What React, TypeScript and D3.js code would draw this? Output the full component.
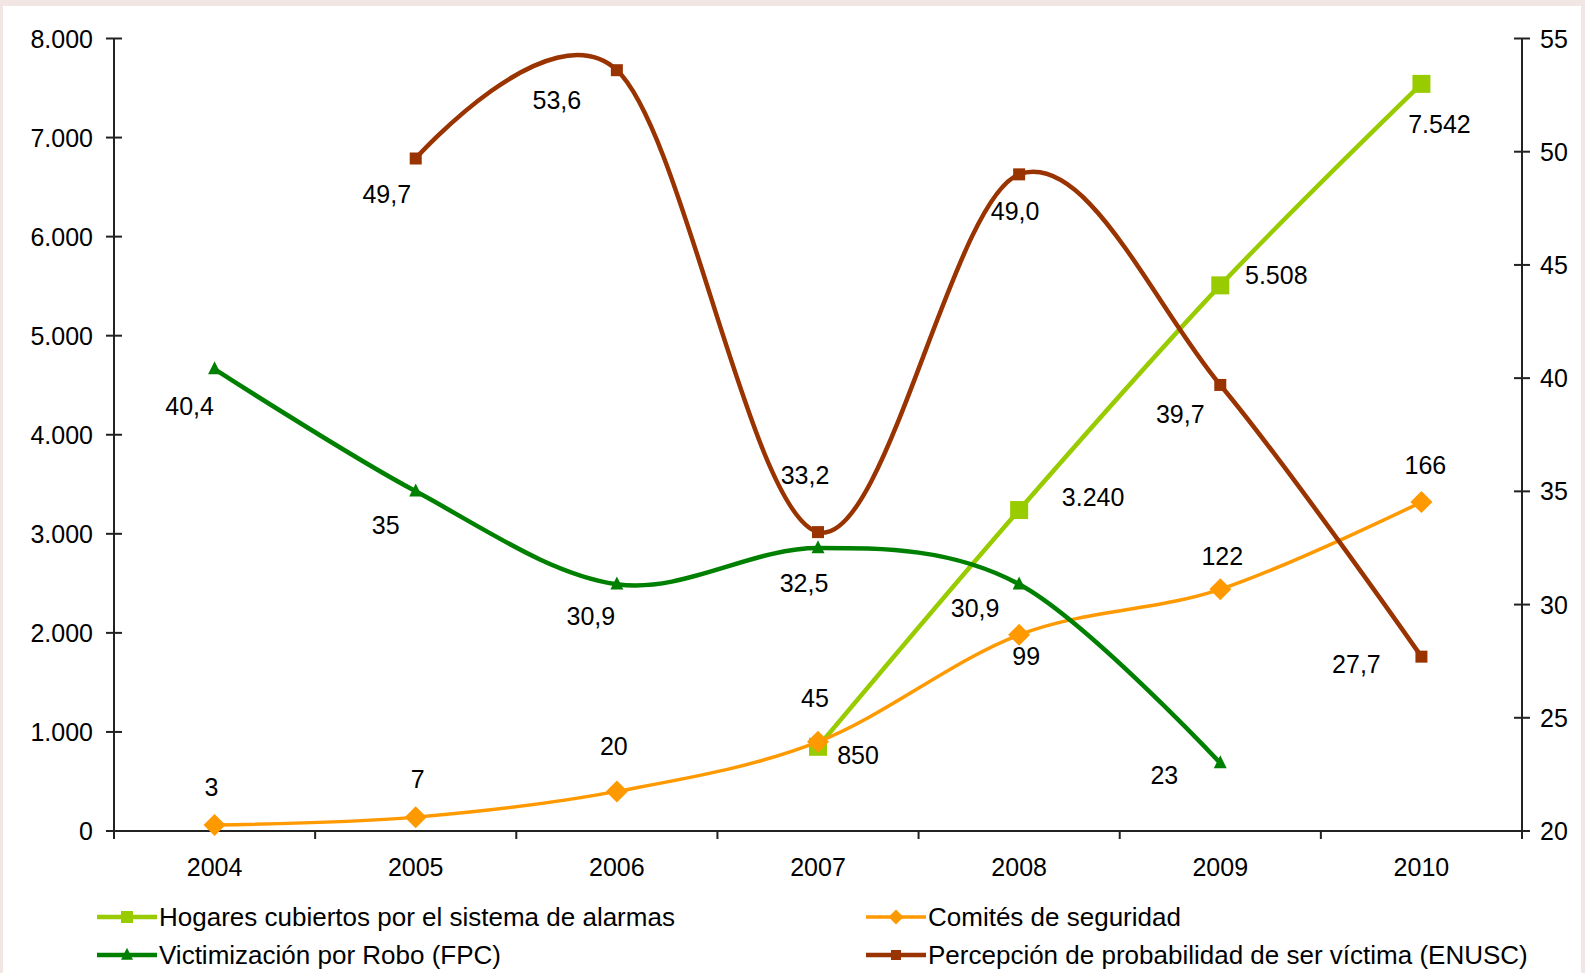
import React from "react";
import * as d3 from "d3";

const years = ["2004", "2005", "2006", "2007", "2008", "2009", "2010"];

// Hogares cubiertos por el sistema de alarmas (left axis), from 2007
const hogaresYears = ["2007", "2008", "2009", "2010"];
const hogaresValues = [850, 3240, 5508, 7542];
const hogaresLabels = ["850", "3.240", "5.508", "7.542"];

// Comités de seguridad (plotted on left axis, labelled with counts)
const comitesYears = ["2004", "2005", "2006", "2007", "2008", "2009", "2010"];
const comitesPlotted = [60, 140, 400, 900, 1980, 2440, 3320];
const comitesLabels = ["3", "7", "20", "45", "99", "122", "166"];

// Victimización por Robo (FPC) (right axis)
const victimYears = ["2004", "2005", "2006", "2007", "2008", "2009"];
const victimValues = [40.4, 35, 30.9, 32.5, 30.9, 23];
const victimLabels = ["40,4", "35", "30,9", "32,5", "30,9", "23"];

// Percepción de probabilidad de ser víctima (ENUSC) (right axis)
const percepYears = ["2005", "2006", "2007", "2008", "2009", "2010"];
const percepValues = [49.7, 53.6, 33.2, 49.0, 39.7, 27.7];
const percepLabels = ["49,7", "53,6", "33,2", "49,0", "39,7", "27,7"];

const leftTicks = [0, 1000, 2000, 3000, 4000, 5000, 6000, 7000, 8000];
const leftTickLabels = ["0", "1.000", "2.000", "3.000", "4.000", "5.000", "6.000", "7.000", "8.000"];
const rightTicks = [20, 25, 30, 35, 40, 45, 50, 55];

const legendNames = [
  "Hogares cubiertos por el sistema de alarmas",
  "Comités de seguridad",
  "Victimización por Robo (FPC)",
  "Percepción de probabilidad de ser víctima (ENUSC)",
];

// label offsets relative to point (px)
const hogaresOff = [[40, 8], [74, -13], [56, -10], [18, 40]];
const comitesOff = [[-3, -38], [2, -38], [-3, -45], [-3, -44], [7, 21], [2, -33], [4, -37]];
const victimOff = [[-25, 37], [-30, 34], [-26, 32], [-14, 35], [-44, 24], [-56, 12]];
const percepOff = [[-29, 35], [-60, 30], [-13, -57], [-4, 37], [-40, 29], [-65, 7]];

const C_HOG = "#99cc00";
const C_COM = "#ff9900";
const C_VIC = "#008000";
const C_PER = "#993300";

const FONT = "'Liberation Sans', Arial, sans-serif";
const FS = 25;

export default function App() {
  const W = 1585, H = 973;
  const left = 114, right = 1522, top = 38.5, bottom = 831;

  const x = d3.scaleBand().domain(years).range([left, right]).padding(0);
  const cx = (y: string) => (x(y) as number) + x.bandwidth() / 2;
  const yL = d3.scaleLinear().domain([0, 8000]).range([bottom, top]);
  const yR = d3.scaleLinear().domain([20, 55]).range([bottom, top]);

  const curve = d3.curveCardinal.tension(0);
  const mkLine = (ys: string[], vs: number[], sc: d3.ScaleLinear<number, number>) =>
    d3.line<number>().x((_, i) => cx(ys[i])).y((v) => sc(v)).curve(curve)(vs) as string;

  const sq = (px: number, py: number, s: number, c: string, k: string) => (
    <rect key={k} x={px - s / 2} y={py - s / 2} width={s} height={s} fill={c} />
  );
  const diamond = (px: number, py: number, s: number, c: string, k: string) => (
    <path key={k} d={`M${px},${py - s / 2}L${px + s / 2},${py}L${px},${py + s / 2}L${px - s / 2},${py}Z`} fill={c} />
  );
  const tri = (px: number, py: number, s: number, c: string, k: string) => (
    <path key={k} d={`M${px},${py - s * 0.6}L${px + s / 2},${py + s * 0.4}L${px - s / 2},${py + s * 0.4}Z`} fill={c} />
  );

  const labelEls = (ys: string[], vs: number[], sc: any, labels: string[], off: number[][], k: string) =>
    labels.map((l, i) => (
      <text
        key={k + i}
        x={cx(ys[i]) + off[i][0]}
        y={sc(vs[i]) + off[i][1]}
        dy="0.36em"
        textAnchor="middle"
        fontSize={FS}
        fontFamily={FONT}
        fill="#000"
      >
        {l}
      </text>
    ));

  const legendItems = [
    { x0: 97, y: 917, c: C_HOG, m: "sq", name: legendNames[0], w: 4.5, ms: 12 },
    { x0: 866, y: 917, c: C_COM, m: "dia", name: legendNames[1], w: 3.5, ms: 15 },
    { x0: 97, y: 955, c: C_VIC, m: "tri", name: legendNames[2], w: 4.5, ms: 12 },
    { x0: 866, y: 955, c: C_PER, m: "sq", name: legendNames[3], w: 4.5, ms: 10 },
  ];

  return (
    <svg width={W} height={H} style={{ position: "absolute", left: 0, top: 0 }} fontFamily={FONT}>
      <rect x={0} y={0} width={W} height={H} fill="#f1e6e4" />
      <rect x={3} y={6} width={1578} height={H - 6} fill="#ffffff" />

      {/* left axis */}
      <line x1={left} x2={left} y1={top} y2={bottom} stroke="#222" strokeWidth={2} />
      {leftTicks.map((t, i) => (
        <g key={"lt" + i}>
          <line x1={left - 8} x2={left + 8} y1={yL(t)} y2={yL(t)} stroke="#222" strokeWidth={2} />
          <text x={93} y={yL(t)} dy="0.36em" textAnchor="end" fontSize={FS} fill="#000">
            {leftTickLabels[i]}
          </text>
        </g>
      ))}
      {/* right axis */}
      <line x1={right} x2={right} y1={top} y2={bottom} stroke="#222" strokeWidth={2} />
      {rightTicks.map((t, i) => (
        <g key={"rt" + i}>
          <line x1={right - 8} x2={right + 8} y1={yR(t)} y2={yR(t)} stroke="#222" strokeWidth={2} />
          <text x={1540} y={yR(t)} dy="0.36em" textAnchor="start" fontSize={FS} fill="#000">
            {t}
          </text>
        </g>
      ))}
      {/* x axis */}
      <line x1={left} x2={right} y1={bottom} y2={bottom} stroke="#222" strokeWidth={2} />
      {years.map((y, i) => (
        <line key={"xt" + i} x1={x(y) as number} x2={x(y) as number} y1={bottom} y2={bottom + 8} stroke="#222" strokeWidth={2} />
      ))}
      <line x1={right} x2={right} y1={bottom} y2={bottom + 8} stroke="#222" strokeWidth={2} />
      {years.map((y, i) => (
        <text key={"xl" + i} x={cx(y)} y={867} dy="0.36em" textAnchor="middle" fontSize={FS} fill="#000">
          {y}
        </text>
      ))}

      {/* Hogares */}
      <path d={mkLine(hogaresYears, hogaresValues, yL)} fill="none" stroke={C_HOG} strokeWidth={4.5} />
      {hogaresValues.map((v, i) => sq(cx(hogaresYears[i]), yL(v), 18, C_HOG, "hm" + i))}

      {/* Comités */}
      <path d={mkLine(comitesYears, comitesPlotted, yL)} fill="none" stroke={C_COM} strokeWidth={3.5} />
      {comitesPlotted.map((v, i) => diamond(cx(comitesYears[i]), yL(v), 22, C_COM, "cm" + i))}

      {/* Victimización */}
      <path d={mkLine(victimYears, victimValues, yR)} fill="none" stroke={C_VIC} strokeWidth={4.5} />
      {victimValues.map((v, i) => tri(cx(victimYears[i]), yR(v), 13, C_VIC, "vm" + i))}

      {/* Percepción */}
      <path d={mkLine(percepYears, percepValues, yR)} fill="none" stroke={C_PER} strokeWidth={4.5} />
      {percepValues.map((v, i) => sq(cx(percepYears[i]), yR(v), 12, C_PER, "pm" + i))}

      {/* labels */}
      {labelEls(hogaresYears, hogaresValues, yL, hogaresLabels, hogaresOff, "hl")}
      {labelEls(comitesYears, comitesPlotted, yL, comitesLabels, comitesOff, "cl")}
      {labelEls(victimYears, victimValues, yR, victimLabels, victimOff, "vl")}
      {labelEls(percepYears, percepValues, yR, percepLabels, percepOff, "pl")}

      {/* legend */}
      {legendItems.map((it, i) => {
        const mx = it.x0 + 30;
        return (
          <g key={"lg" + i}>
            <line x1={it.x0} x2={it.x0 + 60} y1={it.y} y2={it.y} stroke={it.c} strokeWidth={it.w} />
            {it.m === "sq" && sq(mx, it.y, it.ms, it.c, "lm" + i)}
            {it.m === "dia" && diamond(mx, it.y, it.ms, it.c, "lm" + i)}
            {it.m === "tri" && tri(mx, it.y, it.ms, it.c, "lm" + i)}
            <text x={it.x0 + 62} y={it.y} dy="0.36em" fontSize={26} fill="#000">
              {it.name}
            </text>
          </g>
        );
      })}
    </svg>
  );
}
